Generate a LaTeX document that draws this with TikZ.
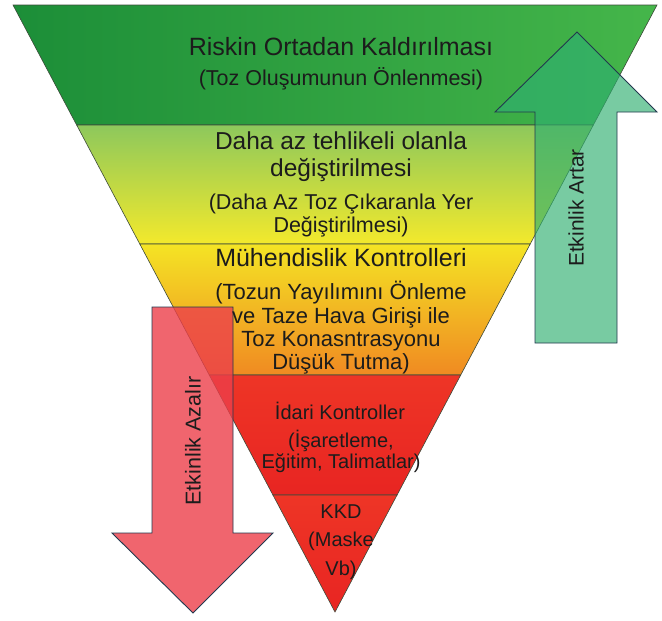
\documentclass[tikz,border=0pt]{standalone}
\usepackage{fontspec}
\setmainfont{Liberation Sans}
\usepackage{tikz}
\usetikzlibrary{
	calc,
	positioning
}
\definecolor{bandline}{HTML}{3C4A3A}
\definecolor{textgray}{HTML}{1C1C1C}
\definecolor{greenA}{HTML}{1C8E38}
\definecolor{greenB}{HTML}{45B64A}
\definecolor{limeA}{HTML}{8DC85C}
\definecolor{limeB}{HTML}{ADD44C}
\definecolor{yellowA}{HTML}{F3E92C}
\definecolor{yellowB}{HTML}{F4E424}
\definecolor{orangeA}{HTML}{F5B42A}
\definecolor{orangeB}{HTML}{F08A22}
\definecolor{redA}{HTML}{EE3526}
\definecolor{redB}{HTML}{E82522}
\definecolor{upfill}{HTML}{2FAF70}
\definecolor{downfill}{HTML}{EC3F4A}
\definecolor{arrowline}{HTML}{22384E}
\tikzset{
	band/.style={
		draw=bandline,
		line width=0.6pt
	},
	bigarrow/.style={
		draw=arrowline,
		line width=0.9pt
	},
	lbl/.style={
		text=textgray,
		align=center,
		inner sep=0pt
	},
	title/.style={
		lbl,
		font=\fontsize{25}{27}\selectfont
	},
	sub/.style={
		lbl,
		font=\fontsize{21.5}{23}\selectfont
	},
	small/.style={
		lbl,
		font=\fontsize{20}{21}\selectfont
	}
}

\begin{document}
\begin{tikzpicture}[x=1pt,y=-1pt]
	\useasboundingbox (0,0) rectangle (662,621);

	% triangle corners and band edges
	\coordinate (tl) at (13,5);
	\coordinate (tr) at (657,5);
	\coordinate (ap) at (335,612);
	\coordinate (l1) at ($(tl)!0.1977!(ap)$);
	\coordinate (r1) at ($(tr)!0.1977!(ap)$);
	\coordinate (l2) at ($(tl)!0.3937!(ap)$);
	\coordinate (r2) at ($(tr)!0.3937!(ap)$);
	\coordinate (l3) at ($(tl)!0.6096!(ap)$);
	\coordinate (r3) at ($(tr)!0.6096!(ap)$);
	\coordinate (l4) at ($(tl)!0.8072!(ap)$);
	\coordinate (r4) at ($(tr)!0.8072!(ap)$);

	% bands
	\draw[band,left color=greenA,right color=greenB] (tl) -- (tr) -- (r1) -- (l1) -- cycle;
	\draw[band,top color=limeA,middle color=limeB,bottom color=yellowA] (l1) -- (r1) -- (r2) -- (l2) -- cycle;
	\draw[band,top color=yellowB,middle color=orangeA,bottom color=orangeB] (l2) -- (r2) -- (r3) -- (l3) -- cycle;
	\draw[band,top color=redA,bottom color=redB] (l3) -- (r3) -- (r4) -- (l4) -- cycle;
	\draw[band,top color=redA,bottom color=redB] (l4) -- (r4) -- (ap) -- cycle;

	% arrows
	\draw[bigarrow,fill=upfill,fill opacity=0.65]
		(577,32) -- (657,112) -- (617,112) -- (617,343)
		-- (535,343) -- (535,112) -- (495,112) -- cycle;
	\draw[bigarrow,fill=downfill,fill opacity=0.8]
		(152,307) -- (233,307) -- (233,533) -- (273,533)
		-- (193,613) -- (112,533) -- (152,533) -- cycle;

	% labels
	\node[title] (elim)    at (341,47)    {Riskin Ortadan Kaldırılması};
	\node[sub]   (elimsub) at (341,79)    {(Toz Oluşumunun Önlenmesi)};
	\node[title,font=\fontsize{24.5}{27}\selectfont]
	             (subst)    at (341,157)  {Daha az tehlikeli olanla\\değiştirilmesi};
	\node[sub]   (substsub) at (341,215)  {(Daha Az Toz Çıkaranla Yer\\Değiştirilmesi)};
	\node[title] (eng)      at (341,258)  {Mühendislik Kontrolleri};
	\node[sub,font=\fontsize{22}{23.3}\selectfont]
	             (engsub)   at (341,328)  {(Tozun Yayılımını Önleme\\ve Taze Hava Girişi ile\\Toz Konasntrasyonu\\Düşük Tutma)};
	\node[small] (admin)    at (340,411)  {İdari Kontroller};
	\node[small] (adminsub) at (341,451)  {(İşaretleme,\\Eğitim, Talimatlar)};
	\node[small,font=\fontsize{20}{28.5}\selectfont]
	             (ppe)      at (341,542)  {KKD\\(Maske\\Vb)};

	\node[lbl,rotate=90,font=\fontsize{21}{23}\selectfont]   (up)   at (576,208) {Etkinlik Artar};
	\node[lbl,rotate=90,font=\fontsize{21.5}{23}\selectfont] (down) at (193,441) {Etkinlik Azalır};
\end{tikzpicture}
\end{document}
